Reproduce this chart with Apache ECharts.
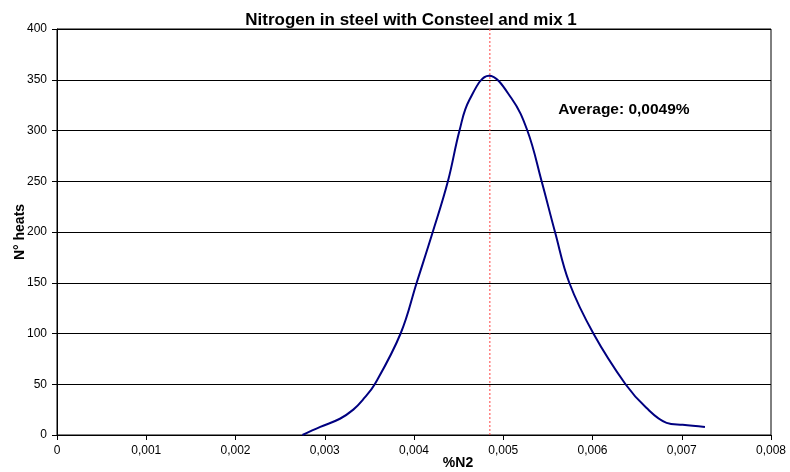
<!DOCTYPE html>
<html>
<head>
<meta charset="utf-8">
<script src="https://cdn.jsdelivr.net/npm/echarts@6/dist/echarts.min.js"></script>
<style>html,body{margin:0;padding:0;background:#fff}#c{width:790px;height:472px}</style>
</head>
<body>
<div id="c"></div>
<script>
var chartTitle = 'Nitrogen in steel with Consteel and mix 1';
var xName = '%N2';
var yName = 'N° heats';
var averageText = 'Average: 0,0049%';
var averageX = 0.00485;
var averageLineY = [0, 400];
var nitrogen = [0.00275, 0.00295, 0.00317, 0.00332, 0.00343, 0.00356, 0.00385, 0.00403, 0.00421, 0.00438, 0.00451, 0.00462, 0.00484, 0.00509, 0.00527, 0.00543, 0.00558, 0.00574, 0.00601, 0.00637, 0.00660, 0.00683, 0.00701, 0.00726];
var heats =    [0,       8,       16,      25,      35,      50,      100,     150,     200,     250,     300,     330,     354,     332,     300,     250,     200,     150,     100,     50,      27,      12,      10,      8];

var lineData = nitrogen.map(function (v, i) { return [v, heats[i]]; });
var avgData = averageLineY.map(function (y) { return [averageX, y]; });
var chart = echarts.init(document.getElementById('c'), null, {renderer: 'canvas'});
var font = 'Liberation Sans, Arial, sans-serif';
chart.setOption({
  animation: false,
  backgroundColor: '#fff',
  title: {
    text: chartTitle, left: 406, top: 7, textAlign: 'center',
    textStyle: {fontFamily: font, fontSize: 17, fontWeight: 'bold', color: '#000'}
  },
  grid: {left: 57, right: 19, top: 29, bottom: 37, containLabel: false, outerBoundsMode: 'none', show: true, borderColor: '#000', borderWidth: 1, backgroundColor: '#fff'},
  xAxis: {
    type: 'value', min: 0, max: 0.008, interval: 0.001,
    axisLine: {lineStyle: {color: '#000'}},
    axisTick: {show: true, length: 5, lineStyle: {color: '#000'}},
    splitLine: {show: false},
    axisLabel: {
      color: '#000', fontFamily: font, fontSize: 12, margin: 10,
      formatter: function (v) { return v === 0 ? '0' : v.toFixed(3).replace('.', ','); }
    }
  },
  yAxis: {
    type: 'value', min: 0, max: 400, interval: 50,
    name: yName, nameLocation: 'middle', nameGap: 30, nameRotate: 90, nameMoveOverlap: false,
    nameTextStyle: {fontFamily: font, fontSize: 14, fontWeight: 'bold', color: '#000'},
    axisLine: {show: true, lineStyle: {color: '#000'}},
    axisTick: {show: true, length: 5, lineStyle: {color: '#000'}},
    splitLine: {show: true, lineStyle: {color: '#000', width: 1}},
    axisLabel: {color: '#000', fontFamily: font, fontSize: 12, margin: 10}
  },
  graphic: [
    {type: 'text', x: 624, y: 110, style: {text: averageText, fill: '#000', font: 'bold 15.5px ' + font, textAlign: 'center', textVerticalAlign: 'middle'}},
    {type: 'text', x: 458, y: 463, style: {text: xName, fill: '#000', font: 'bold 14px ' + font, textAlign: 'center', textVerticalAlign: 'middle'}}
  ],
  series: [
    {
      type: 'line', data: avgData, symbol: 'none', silent: true,
      lineStyle: {color: '#ff4040', type: [2, 2], width: 1}
    },
    {
      type: 'line', data: lineData, smooth: 0.4, symbol: 'none',
      lineStyle: {color: '#000080', width: 2}
    }
  ]
});
</script>
</body>
</html>
